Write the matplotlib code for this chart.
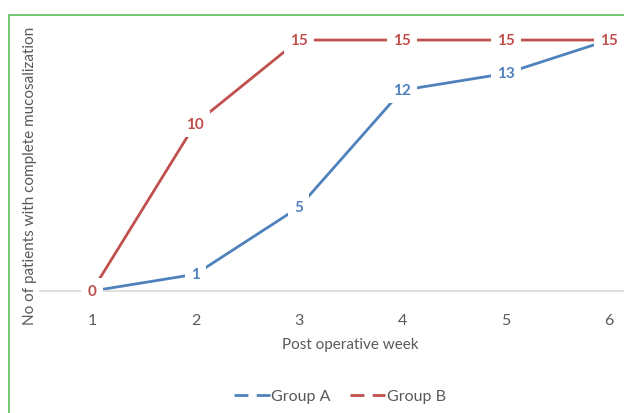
import matplotlib.pyplot as plt
from matplotlib.patches import Rectangle
from matplotlib.lines import Line2D

plt.rcParams['font.family'] = ['Lato', 'DejaVu Sans']

weeks = [1, 2, 3, 4, 5, 6]
group_a = [0, 1, 5, 12, 13, 15]
group_b = [0, 10, 15, 15, 15, 15]

blue = '#4F81BD'
red = '#C0504D'
grey = '#595959'

fig = plt.figure(figsize=(6.24, 4.14), dpi=100)

# green frame of the chart area
fig.patches.append(Rectangle((9 / 624, -0.2), 1.2, 1.2 - 16 / 414,
                             transform=fig.transFigure, fill=False,
                             edgecolor='#5ABF5A', linewidth=1.2))

ax = fig.add_axes([40.3 / 624, (414 - 292) / 414, 620.4 / 624, 267.7 / 414])
ax.set_xlim(0.5, 6.5)
ax.set_ylim(0, 16)

ax.plot(weeks, group_a, color=blue, lw=2.0, solid_capstyle='butt', zorder=2)
ax.plot(weeks, group_b, color=red, lw=2.0, solid_capstyle='butt', zorder=2)

box = dict(boxstyle='square,pad=0.4', fc='white', ec='none')
for x, y in zip(weeks, group_a):
    if x in (1, 6):
        continue
    ax.text(x, y, str(y), color=blue, fontsize=11, fontweight='bold',
            ha='center', va='center', bbox=box, zorder=3)
for x, y in zip(weeks, group_b):
    ax.text(x, y, str(y), color=red, fontsize=11, fontweight='bold',
            ha='center', va='center', bbox=box, zorder=3)

for s in ['top', 'right', 'left']:
    ax.spines[s].set_visible(False)
ax.spines['bottom'].set_color('#D9D9D9')
ax.spines['bottom'].set_linewidth(1.2)
ax.set_yticks([])
ax.set_xticks(weeks)
ax.tick_params(axis='x', length=0, pad=16, labelsize=11.5, labelcolor=grey)

ax.set_xlabel('Post operative week', fontsize=11, color=grey, labelpad=7)
fig.text(30 / 624, 1 - 176 / 414, 'No of patients with complete mucosalization',
         rotation=90, ha='center', va='center', fontsize=11, color=grey)

handles = [Line2D([], [], color=blue, lw=2.0, ls=(0, (5, 3))),
           Line2D([], [], color=red, lw=2.0, ls=(0, (5, 3)))]
fig.legend(handles, ['Group A', 'Group B'], loc='center',
           bbox_to_anchor=(340 / 624, 1 - 397 / 414), ncol=2, frameon=False,
           fontsize=11.5, labelcolor=grey, handlelength=2.2, handletextpad=0.1,
           columnspacing=1.2)

fig.savefig('out.png', dpi=100)
